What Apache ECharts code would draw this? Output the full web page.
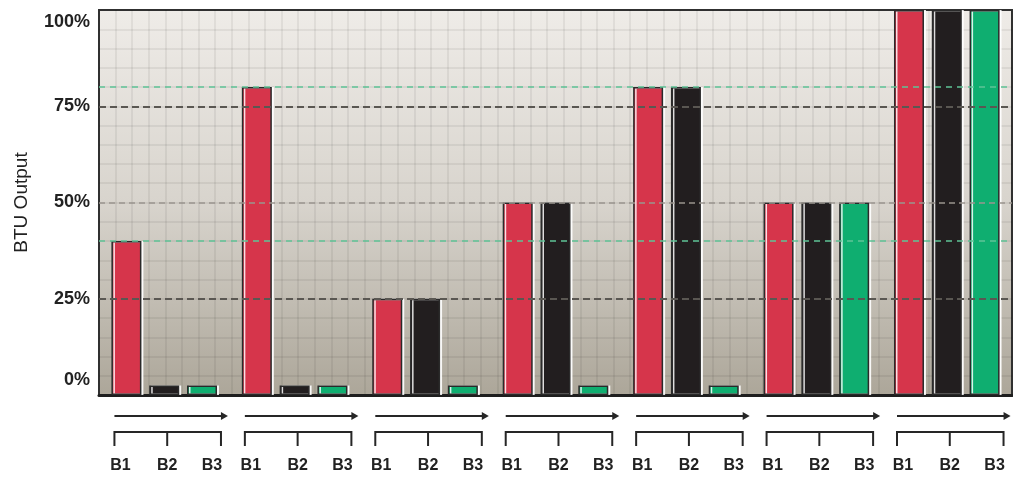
<!DOCTYPE html>
<html>
<head>
<meta charset="utf-8">
<script src="https://cdn.jsdelivr.net/npm/echarts@6/dist/echarts.min.js"></script>
<style>
  html, body { margin: 0; padding: 0; background: #ffffff; }
  #chart { width: 1013px; height: 477px; }
</style>
</head>
<body>
<div id="chart"></div>
<script>
// Firing groups along the x axis, each with three burners
const groups = ['1', '2', '3', '4', '5', '6', '7'];
const burnerLabels = ['B1', 'B2', 'B3'];

// BTU output per burner (percent of full output)
const b1Output = [40, 80, 25, 50, 80, 50, 100];
const b2Output = [2.5, 2.5, 25, 50, 80, 50, 100];
const b3Output = [2.5, 2.5, 2.5, 2.5, 2.5, 50, 100];

// y axis ticks and reference levels
const yTicks = [0, 25, 50, 75, 100];
const quarterLevels = [25, 75];
const midLevels = [50];
const thresholdLevels = [40, 80];

const FONT = '"Liberation Sans", Arial, sans-serif';
const INK = '#222222';
const MESH = 'rgba(0,0,0,0.06)';

const chart = echarts.init(document.getElementById('chart'), null, { renderer: 'canvas' });

// bracket, arrow and B1/B2/B3 labels drawn under each group
function renderGroupScale(params, api) {
  const idx = api.value(0);
  const pt = api.coord([idx, 0]);
  const cx = pt[0], baseY = pt[1];
  const u = api.size([1, 0])[0] / 131;
  const left = cx - 50 * u, right = cx + 57 * u, mid = cx + 3 * u;
  const arrowY = baseY + 21, brY = baseY + 37, tickY = baseY + 51, textY = baseY + 71;
  const stroke = { stroke: '#262626', lineWidth: 2, fill: null };
  const labelX = [left + 6 * u, mid, right - 9 * u];
  const children = [
    { type: 'line', shape: { x1: left, y1: arrowY, x2: right + 2, y2: arrowY }, style: stroke },
    { type: 'polygon', shape: { points: [[right, arrowY - 4], [right + 7, arrowY], [right, arrowY + 4]] },
      style: { fill: '#262626' } },
    { type: 'polyline', shape: { points: [[left, tickY], [left, brY], [right, brY], [right, tickY]] }, style: stroke },
    { type: 'line', shape: { x1: mid, y1: brY, x2: mid, y2: tickY }, style: stroke }
  ];
  burnerLabels.forEach(function (t, i) {
    children.push({
      type: 'text', x: labelX[i], y: textY,
      style: { text: t, fill: INK, font: 'bold 16px ' + FONT, align: 'center', verticalAlign: 'middle' }
    });
  });
  return { type: 'group', children: children };
}

function levelLines(values, color, width, dash) {
  return values.map(function (v) {
    return { yAxis: v, lineStyle: { color: color, width: width, type: dash } };
  });
}

const barBase = {
  type: 'bar',
  barWidth: 30,
  barGap: '26%',
  z: 3,
  xAxisIndex: 0,
  yAxisIndex: 0
};
function barStyle(color) {
  return {
    color: color,
    borderColor: '#2a2a2a',
    borderWidth: 1.5,
    shadowColor: 'rgba(255,255,255,0.85)',
    shadowOffsetX: 2,
    shadowOffsetY: 0,
    shadowBlur: 0
  };
}

const labelRich = { color: INK, fontFamily: FONT, fontSize: 18, fontWeight: 'bold' };

const option = {
  animation: false,
  backgroundColor: '#ffffff',
  grid: {
    left: 99, right: 1, top: 10, bottom: 82,
    show: true,
    borderColor: '#333333',
    borderWidth: 2,
    backgroundColor: {
      type: 'linear', x: 0, y: 0, x2: 0, y2: 1,
      colorStops: [
        { offset: 0, color: '#efece8' },
        { offset: 0.5, color: '#d8d4cd' },
        { offset: 1, color: '#aca699' }
      ]
    }
  },
  xAxis: [
    {
      type: 'category',
      data: groups,
      axisLine: { show: true, lineStyle: { color: '#1e1e1e', width: 3 } },
      axisTick: { show: false },
      axisLabel: { show: false },
      splitLine: { show: false }
    },
    {
      // fine vertical mesh of the plot background
      type: 'value', min: 0, max: 55, interval: 1,
      position: 'top',
      axisLine: { show: false }, axisTick: { show: false }, axisLabel: { show: false },
      splitLine: { show: true, lineStyle: { color: MESH, width: 2 } }
    }
  ],
  yAxis: {
    type: 'value',
    min: yTicks[0], max: yTicks[yTicks.length - 1], interval: 25,
    name: 'BTU Output',
    nameLocation: 'middle',
    nameGap: 68,
    nameRotate: 90,
    nameTextStyle: { color: INK, fontFamily: FONT, fontSize: 19 },
    axisLine: { show: false },
    axisTick: { show: false },
    axisLabel: {
      margin: 9,
      formatter: function (v) {
        const s = v + '%';
        if (v === yTicks[yTicks.length - 1]) return '{top|' + s + '}';
        if (v === yTicks[0]) return '{bot|' + s + '}';
        return '{mid|' + s + '}';
      },
      rich: {
        top: Object.assign({}, labelRich, { padding: [24, 0, 0, 0] }),
        mid: labelRich,
        bot: Object.assign({}, labelRich, { padding: [0, 0, 30, 0] })
      }
    },
    splitLine: { show: true, lineStyle: { color: MESH, width: 2 } },
    minorTick: { show: false, splitNumber: 5 },
    minorSplitLine: { show: true, lineStyle: { color: MESH, width: 2 } }
  },
  series: [
    {
      // reference levels, kept behind the bars
      type: 'line',
      data: [],
      z: 1,
      silent: true,
      markLine: {
        silent: true,
        symbol: 'none',
        label: { show: false },
        data: []
          .concat(levelLines(quarterLevels, '#5a5752', 2, [7, 4]))
          .concat(levelLines(midLevels, '#9a958e', 1.5, [6, 4]))
          .concat(levelLines(thresholdLevels, '#5fc497', 1.5, [6, 5]))
      }
    },
    Object.assign({}, barBase, { name: 'B1', data: b1Output, itemStyle: barStyle('#d6354b') }),
    Object.assign({}, barBase, { name: 'B2', data: b2Output, itemStyle: barStyle('#221e1f') }),
    Object.assign({}, barBase, { name: 'B3', data: b3Output, itemStyle: barStyle('#0fae70') }),
    {
      type: 'custom',
      name: 'scale',
      silent: true,
      clip: false,
      z: 4,
      encode: { x: 0, y: 1 },
      data: groups.map(function (g, i) { return [i, 0]; }),
      renderItem: renderGroupScale
    }
  ]
};

chart.setOption(option);
</script>
</body>
</html>
